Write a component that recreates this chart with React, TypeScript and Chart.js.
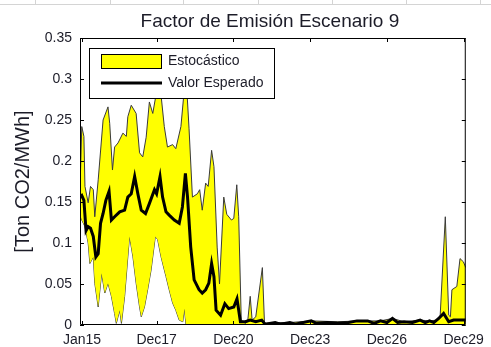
import React, { useEffect, useRef } from 'react';
import { Chart, registerables } from 'chart.js';
Chart.register(...registerables);

const chartTitle = 'Factor de Emisión Escenario 9';
const yAxisTitle = '[Ton CO2/MWh]';
const xTickMonths = [0, 35, 71, 107, 143, 179];
const xTickLabels = ['Jan15', 'Dec17', 'Dec20', 'Dec23', 'Dec26', 'Dec29'];
const yTicks = [0, 0.05, 0.1, 0.15, 0.2, 0.25, 0.3, 0.35];
const xMin = -0.93;
const xMax = 180;

const upperMonths = [-0.93, -0.1, 0.9, 1.4, 2.9, 4.0, 5.3, 6.0, 7.6, 9.9, 12.2, 13.0, 14.3, 15.3, 16.9, 19.2, 20.8, 21.5, 23.1, 25.4, 27.0, 28.5, 30.1, 31.6, 33.2, 35.0, 36.3, 38.6, 40.1, 42.5, 44.0, 46.4, 47.9, 49.0, 50.2, 51.8, 54.1, 55.2, 56.4, 58.0, 59.2, 60.8, 61.9, 63.4, 64.5, 66.5, 67.9, 70.1, 71.2, 72.6, 73.5, 74.7, 76.6, 77.7, 78.9, 79.8, 81.5, 84.6, 85.6, 90.6, 97.5, 107.5, 120, 131, 140, 145.6, 151, 158.6, 163, 166.5, 168.0, 170.4, 172.0, 172.8, 173.5, 175.8, 177.3, 178.9, 180];
const upperValues = [0.165, 0.242, 0.23, 0.169, 0.149, 0.169, 0.165, 0.132, 0.177, 0.25, 0.266, 0.246, 0.189, 0.217, 0.222, 0.234, 0.23, 0.254, 0.268, 0.258, 0.21, 0.205, 0.229, 0.272, 0.258, 0.285, 0.30, 0.242, 0.217, 0.22, 0.215, 0.242, 0.285, 0.295, 0.24, 0.156, 0.16, 0.165, 0.14, 0.173, 0.169, 0.213, 0.193, 0.095, 0.05, 0.156, 0.135, 0.128, 0.13, 0.171, 0.132, 0.006, 0.002, 0.004, 0.035, 0.006, 0.01, 0.07, 0.002, 0.003, 0.003, 0.005, 0.004, 0.005, 0.005, 0.008, 0.004, 0.006, 0.005, 0.006, 0.012, 0.132, 0.012, 0.01, 0.043, 0.047, 0.081, 0.077, 0.07];

const lowerMonths = [-0.93, -0.1, 1.4, 2.9, 3.7, 5.3, 6.0, 7.6, 9.2, 10.7, 12.2, 13.8, 15.3, 16.1, 17.7, 18.5, 20.0, 21.5, 22.3, 23.9, 25.4, 27.0, 27.8, 29.3, 30.8, 32.4, 34.4, 35.5, 37.1, 39.4, 40.9, 42.5, 44.0, 45.6, 47.3, 48.0, 48.8, 180];
const lowerValues = [0.136, 0.128, 0.12, 0.1, 0.075, 0.083, 0.051, 0.022, 0.063, 0.039, 0.051, 0.035, 0.014, 0.002, 0.018, 0.002, 0.035, 0.083, 0.108, 0.083, 0.051, 0.022, 0.01, 0.022, 0.043, 0.067, 0.108, 0.104, 0.083, 0.059, 0.043, 0.027, 0.018, 0.006, 0.004, 0.02, 0, 0];

const meanMonths = [-0.93, -0.1, 0.9, 1.9, 2.9, 4.0, 5.3, 6.5, 7.6, 8.7, 9.9, 11.2, 12.7, 13.8, 15.3, 17.7, 20.0, 21.5, 23.1, 24.7, 26.2, 27.8, 29.8, 31.6, 34.0, 35.0, 36.6, 37.8, 39.4, 40.9, 43.3, 45.6, 47.1, 48.5, 49.5, 51.0, 52.6, 54.9, 56.4, 58.0, 59.5, 60.8, 61.9, 62.9, 65.0, 67.0, 68.8, 71.2, 72.7, 74.3, 76.6, 78.9, 81.5, 84.3, 85.9, 90.6, 93, 97.5, 100, 107.5, 110, 115, 120, 125, 129, 134, 137, 140, 143, 145.6, 148, 151, 155, 158.6, 161, 163, 165, 167.3, 169.6, 172.0, 174.3, 178.9, 180];
const meanValues = [0.156, 0.158, 0.152, 0.115, 0.12, 0.118, 0.108, 0.083, 0.087, 0.124, 0.136, 0.152, 0.163, 0.128, 0.132, 0.138, 0.14, 0.156, 0.16, 0.181, 0.16, 0.14, 0.136, 0.148, 0.165, 0.16, 0.181, 0.156, 0.138, 0.134, 0.128, 0.124, 0.144, 0.185, 0.156, 0.095, 0.055, 0.043, 0.039, 0.043, 0.051, 0.075, 0.059, 0.018, 0.012, 0.026, 0.02, 0.022, 0.032, 0.004, 0.004, 0.006, 0.004, 0.006, 0.001, 0.003, 0.001, 0.003, 0.001, 0.005, 0.002, 0.003, 0.002, 0.003, 0.005, 0.005, 0.002, 0.005, 0.003, 0.008, 0.003, 0.004, 0.003, 0.006, 0.003, 0.005, 0.003, 0.008, 0.014, 0.004, 0.006, 0.006, 0.006];

const FONT = "'Liberation Sans', Arial, sans-serif";
const TEXT = '#1c1c28';

const toPoints = (xs: number[], ys: number[]) => xs.map((x, i) => ({ x, y: ys[i] }));

const framePlugin = {
  id: 'matlabFrame',
  afterDatasetsDraw(chart: any) {
    const { ctx, chartArea: a, scales } = chart;
    ctx.save();
    ctx.strokeStyle = '#000';
    ctx.lineWidth = 1;
    ctx.beginPath();
    ctx.rect(a.left + 0.5, a.top + 0.5, a.right - a.left - 1, a.bottom - a.top - 1);
    ctx.stroke();
    const tl = 4;
    ctx.beginPath();
    yTicks.forEach((v) => {
      const py = Math.round(scales.y.getPixelForValue(v)) + 0.5;
      ctx.moveTo(a.left, py); ctx.lineTo(a.left + tl, py);
      ctx.moveTo(a.right, py); ctx.lineTo(a.right - tl, py);
    });
    xTickMonths.forEach((v) => {
      const px = Math.round(scales.x.getPixelForValue(v)) + 0.5;
      ctx.moveTo(px, a.bottom); ctx.lineTo(px, a.bottom - tl);
      ctx.moveTo(px, a.top); ctx.lineTo(px, a.top + tl);
    });
    ctx.stroke();
    ctx.restore();
  },
  afterDraw(chart: any) {
    const { ctx, chartArea: a } = chart;
    ctx.save();
    ctx.fillStyle = TEXT;
    ctx.font = `19px ${FONT}`;
    ctx.textAlign = 'center';
    ctx.textBaseline = 'alphabetic';
    ctx.fillText(chartTitle, (a.left + a.right) / 2 - 3, a.top - 11);
    const bx = a.left + 9, by = a.top + 10, bw = 185, bh = 50;
    ctx.fillStyle = '#fff';
    ctx.fillRect(bx, by, bw, bh);
    ctx.strokeStyle = '#000';
    ctx.lineWidth = 1;
    ctx.strokeRect(bx + 0.5, by + 0.5, bw, bh);
    const ds = chart.data.datasets;
    const up = ds[1], mean = ds[0];
    ctx.fillStyle = up.backgroundColor;
    ctx.fillRect(bx + 12, by + 6, 60, 14);
    ctx.strokeStyle = '#000';
    ctx.strokeRect(bx + 12.5, by + 6.5, 60, 14);
    ctx.beginPath();
    ctx.strokeStyle = mean.borderColor;
    ctx.lineWidth = mean.borderWidth;
    ctx.moveTo(bx + 12, by + 35); ctx.lineTo(bx + 73, by + 35);
    ctx.stroke();
    ctx.fillStyle = TEXT;
    ctx.font = `14px ${FONT}`;
    ctx.textAlign = 'left';
    ctx.textBaseline = 'middle';
    ctx.fillText(up.label, bx + 79, by + 13);
    ctx.fillText(mean.label, bx + 79, by + 35);
    ctx.restore();
  },
};

export default function App() {
  const ref = useRef<HTMLCanvasElement>(null);
  useEffect(() => {
    if (!ref.current) return;
    const chart = new Chart(ref.current, {
      type: 'line',
      data: {
        datasets: [
          {
            label: 'Valor Esperado',
            data: toPoints(meanMonths, meanValues),
            borderColor: '#000',
            borderWidth: 3,
            fill: false,
            order: 0,
          },
          {
            label: 'Estocástico',
            data: toPoints(upperMonths, upperValues),
            borderColor: '#3a3a3a',
            borderWidth: 1,
            backgroundColor: '#ffff00',
            fill: '+1',
            order: 1,
          },
          {
            label: '',
            data: toPoints(lowerMonths, lowerValues),
            borderColor: '#3a3a3a',
            borderWidth: 1,
            fill: false,
            order: 2,
          },
        ],
      },
      options: {
        animation: false,
        responsive: false,
        maintainAspectRatio: false,
        layout: { padding: { top: 38, right: 22, left: 0, bottom: 0 } },
        elements: { point: { radius: 0 }, line: { tension: 0 } },
        plugins: {
          legend: { display: false },
          tooltip: { enabled: false },
          title: { display: false },
        },
        scales: {
          x: {
            type: 'linear',
            min: xMin,
            max: xMax,
            afterBuildTicks: (s: any) => {
              s.ticks = xTickMonths.map((v) => ({ value: v }));
            },
            afterFit: (s: any) => {
              s.height = 22;
            },
            ticks: {
              autoSkip: false,
              maxRotation: 0,
              padding: 7,
              color: TEXT,
              font: { family: FONT, size: 14 },
              callback: (v: any) => xTickLabels[xTickMonths.indexOf(Number(v))] ?? '',
            },
            grid: { display: false, drawTicks: false },
            border: { display: false },
          },
          y: {
            min: 0,
            max: 0.35,
            afterBuildTicks: (s: any) => {
              s.ticks = yTicks.map((v) => ({ value: v }));
            },
            afterFit: (s: any) => {
              s.width = 80;
            },
            ticks: {
              padding: 8,
              color: TEXT,
              font: { family: FONT, size: 14 },
              callback: (v: any) => String(Number(v)),
            },
            title: {
              display: true,
              text: yAxisTitle,
              color: TEXT,
              font: { family: FONT, size: 20 },
              padding: { top: 11, bottom: 0 },
            },
            grid: { display: false, drawTicks: false },
            border: { display: false },
          },
        },
      },
      plugins: [framePlugin],
    });
    return () => chart.destroy();
  }, []);

  const cellXs = [35, 110, 183, 258, 332, 406, 480];
  return (
    <div style={{ position: 'absolute', left: 0, top: 0, width: 491, height: 347, background: '#fff' }}>
      <div style={{ position: 'absolute', left: 0, top: 4, width: 491, height: 1, background: '#d4d4d4' }} />
      {cellXs.map((x) => (
        <div key={x} style={{ position: 'absolute', left: x, top: 0, width: 1, height: 5, background: '#d4d4d4' }} />
      ))}
      <canvas ref={ref} width={491} height={347} style={{ position: 'absolute', left: 0, top: 0 }} />
    </div>
  );
}
